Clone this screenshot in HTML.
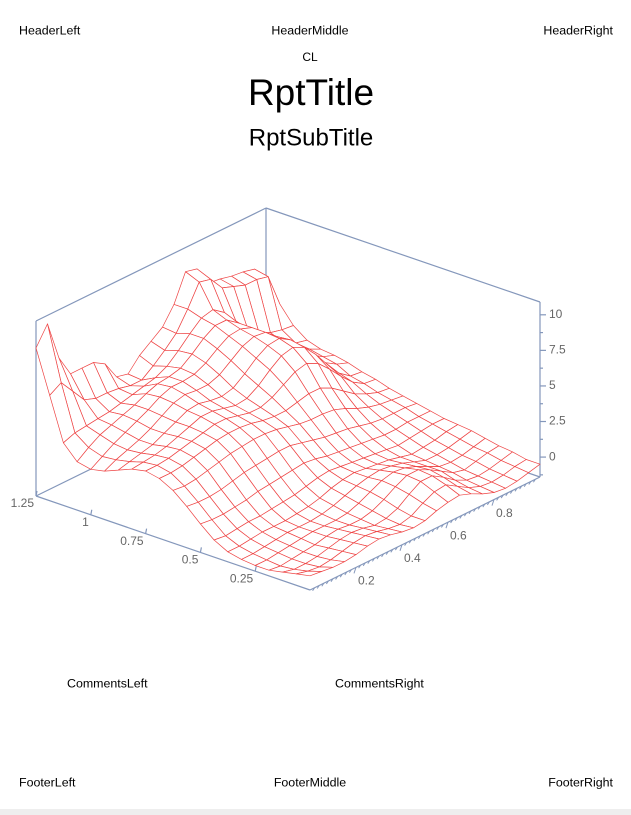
<!DOCTYPE html>
<html><head><meta charset="utf-8"><style>
body{margin:0;background:#fff;}
svg{display:block;font-family:"Liberation Sans",sans-serif;}
</style></head><body>
<svg id="c" width="631" height="815" viewBox="0 0 631 815">
<rect x="0" y="0" width="631" height="815" fill="#fff"/>
<rect x="0" y="809" width="631" height="6" fill="#eeeeee"/>
<text x="19" y="31" font-size="12.4" dominant-baseline="middle">HeaderLeft</text>
<text x="310" y="31" font-size="12.4" text-anchor="middle" dominant-baseline="middle">HeaderMiddle</text>
<text x="613" y="31" font-size="12.4" text-anchor="end" dominant-baseline="middle">HeaderRight</text>
<text x="310" y="58" font-size="12" text-anchor="middle" dominant-baseline="middle">CL</text>
<text x="311" y="95" font-size="37" text-anchor="middle" dominant-baseline="middle">RptTitle</text>
<text x="311" y="139" font-size="24" text-anchor="middle" dominant-baseline="middle">RptSubTitle</text>
<text x="67" y="684" font-size="12.4" dominant-baseline="middle">CommentsLeft</text>
<text x="335" y="684" font-size="12.4" dominant-baseline="middle">CommentsRight</text>
<text x="19" y="783" font-size="12.4" dominant-baseline="middle">FooterLeft</text>
<text x="310" y="783" font-size="12.4" text-anchor="middle" dominant-baseline="middle">FooterMiddle</text>
<text x="613" y="783" font-size="12.4" text-anchor="end" dominant-baseline="middle">FooterRight</text>
<g id="chart"></g>
</svg>
<script>
const xTicks=[0.25,0.5,0.75,1,1.25];
const xTickLabels=["0.25","0.5","0.75","1","1.25"];
const yTicks=[0.2,0.4,0.6,0.8];
const yTickLabels=["0.2","0.4","0.6","0.8"];
const zTicks=[0,2.5,5,7.5,10];
const zTickLabels=["0","2.5","5","7.5","10"];
const xMax=1.25, yMax=1, zMin=-1.4, zMax=10.9;
const zGrid=[
[-0.4,-0.5,-0.6,-0.6,-0.5,-0.3,-0.2,-0.3,-0.5,-0.6,-0.5,-0.2,0.0,0.1,-0.2,-0.6,-0.9,-1.0,-0.9,-0.7,-0.5],
[-0.6,-0.8,-0.9,-0.8,-0.6,-0.4,-0.3,-0.4,-0.6,-0.7,-0.5,0.0,0.4,0.5,0.0,-0.5,-0.8,-0.9,-0.8,-0.6,-0.5],
[-0.8,-1.0,-1.0,-0.9,-0.7,-0.5,-0.4,-0.5,-0.7,-0.6,-0.3,0.3,0.8,0.8,0.3,-0.3,-0.7,-0.8,-0.7,-0.5,-0.3],
[-1.0,-1.1,-1.0,-0.9,-0.8,-0.6,-0.5,-0.6,-0.6,-0.4,0.0,0.5,0.9,0.9,0.5,0.0,-0.5,-0.7,-0.5,-0.3,-0.2],
[-1.0,-1.0,-0.9,-0.8,-0.7,-0.6,-0.6,-0.6,-0.5,-0.2,0.2,0.6,0.8,0.7,0.4,0.0,-0.4,-0.5,-0.4,-0.2,0.0],
[-0.9,-0.9,-0.8,-0.7,-0.6,-0.6,-0.6,-0.5,-0.3,0.0,0.3,0.5,0.6,0.5,0.3,0.0,-0.3,-0.3,-0.2,0.0,0.2],
[-0.7,-0.7,-0.6,-0.5,-0.5,-0.5,-0.4,-0.3,-0.1,0.2,0.4,0.5,0.4,0.3,0.2,0.0,-0.2,-0.1,0.0,0.2,0.3],
[-0.2,-0.3,-0.2,-0.1,-0.1,0.0,0.1,0.2,0.4,0.6,0.7,0.6,0.5,0.4,0.3,0.2,0.1,0.2,0.3,0.4,0.4],
[0.6,0.5,0.5,0.6,0.7,0.9,1.0,1.1,1.2,1.3,1.2,1.0,0.9,0.8,0.7,0.6,0.5,0.5,0.6,0.6,0.6],
[1.5,1.4,1.4,1.5,1.7,1.9,2.0,2.1,2.2,2.2,2.0,1.8,1.6,1.5,1.4,1.2,1.0,0.9,0.9,0.9,0.8],
[2.3,2.2,2.3,2.5,2.7,2.9,3.0,3.1,3.1,3.0,2.8,2.6,2.5,2.5,2.4,2.1,1.7,1.4,1.2,1.1,1.0],
[2.8,2.8,2.9,3.1,3.3,3.5,3.6,3.6,3.5,3.3,3.2,3.2,3.4,3.6,3.6,3.2,2.6,2.0,1.6,1.3,1.2],
[3.0,3.0,3.1,3.3,3.5,3.7,3.9,3.9,3.7,3.5,3.5,3.8,4.3,4.8,5.0,4.6,3.8,2.9,2.1,1.6,1.5],
[2.8,2.9,3.0,3.2,3.5,3.8,4.1,4.1,3.9,3.7,3.8,4.3,5.0,5.6,5.8,5.4,4.5,3.4,2.4,1.8,1.7],
[2.4,2.6,2.8,3.0,3.4,3.8,4.2,4.3,4.1,4.0,4.2,4.8,5.5,6.0,6.1,5.6,4.6,3.6,2.8,2.3,2.0],
[2.0,2.4,2.7,3.0,3.4,3.9,4.4,4.6,4.5,4.5,4.8,5.4,6.0,6.3,6.2,5.5,4.6,3.8,3.0,2.5,2.2],
[1.8,2.3,2.8,3.2,3.6,4.0,4.5,4.8,4.8,4.9,5.3,5.9,6.4,6.5,6.2,5.4,4.6,3.9,3.2,2.7,2.3],
[2.0,2.6,3.1,3.4,3.7,4.0,4.4,4.7,4.8,5.0,5.6,6.3,6.8,6.8,6.2,5.3,4.5,3.8,3.2,2.8,2.6],
[3.0,3.3,3.4,3.5,3.6,3.8,4.0,4.2,4.4,4.8,5.5,6.3,7.0,7.2,6.6,5.6,4.7,4.0,3.6,3.4,3.3],
[6.0,6.5,5.5,4.5,4.2,4.2,4.1,3.9,3.9,4.5,5.2,6.0,7.3,8.8,8.6,7.6,7.3,7.0,7.0,6.8,4.5],
[9.0,10.3,7.5,6.0,6.0,6.0,5.5,4.2,4.0,4.9,5.5,6.1,7.3,9.2,9.0,7.6,7.5,7.3,7.2,7.0,6.0]
];
const NS="http://www.w3.org/2000/svg";
const g=document.getElementById('chart');
const O=[310,590], EX=[-274,-94], EY=[230,-113], ZS=(477-302)/(zMax-zMin);
function P(x,y,z){return [O[0]+x/xMax*EX[0]+y/yMax*EY[0], O[1]+x/xMax*EX[1]+y/yMax*EY[1]-(z-zMin)*ZS];}
function mk(tag,attrs){const e=document.createElementNS(NS,tag);for(const k in attrs)e.setAttribute(k,attrs[k]);g.appendChild(e);return e;}
const AX="#8497bb";
function line(a,b,name){const e=mk('line',{x1:a[0],y1:a[1],x2:b[0],y2:b[1],stroke:AX,'stroke-width':1.2});

}
line(P(xMax,0,zMin),P(xMax,yMax,zMin),'back-left-floor-edge');
line(P(xMax,yMax,zMin),P(0,yMax,zMin),'back-right-floor-edge');
line(P(xMax,yMax,zMin),P(xMax,yMax,zMax),'back-vertical-edge');
line(P(xMax,0,zMax),P(xMax,yMax,zMax),'top-left-edge');
line(P(xMax,yMax,zMax),P(0,yMax,zMax),'top-right-edge');
line(P(xMax,0,zMin),P(xMax,0,zMax),'left-vertical-edge');
line(P(0,yMax,zMin),P(0,yMax,zMax),'right-vertical-edge');
const nI=zGrid.length, nJ=zGrid[0].length;
const quads=[];
for(let i=0;i<nI-1;i++)for(let j=0;j<nJ-1;j++)quads.push([i,j]);
quads.sort((a,b)=>(b[0]/(nI-1)+b[1]/(nJ-1))-(a[0]/(nI-1)+a[1]/(nJ-1)));
const xs=i=>i/(nI-1)*xMax, ys=j=>j/(nJ-1)*yMax;
for(const [i,j] of quads){
  const pts=[P(xs(i),ys(j),zGrid[i][j]),P(xs(i+1),ys(j),zGrid[i+1][j]),P(xs(i+1),ys(j+1),zGrid[i+1][j+1]),P(xs(i),ys(j+1),zGrid[i][j+1])];
  const e=mk('polygon',{points:pts.map(p=>p[0].toFixed(1)+','+p[1].toFixed(1)).join(' '),fill:'#fff',stroke:'#ee4444','stroke-width':0.7,'stroke-linejoin':'round'});
  
  
}
line(P(xMax,0,zMin),P(0,0,zMin),'x-axis');
line(P(0,0,zMin),P(0,yMax,zMin),'y-axis');
function txt(x,y,s,anchor,name){const e=mk('text',{x:x,y:y,'font-size':12,fill:'#666','text-anchor':anchor,'dominant-baseline':'middle'});e.textContent=s;

}
xTicks.forEach((v,k)=>{const p=P(v,0,zMin);
  line(p,[p[0]+1,p[1]-5],'x-tick');
  txt(p[0]-2,p[1]+8,xTickLabels[k],'end','x-tick-label');});
for(let v=0.02;v<yMax-0.001;v+=0.02){const p=P(0,v,zMin);
  const e=mk('line',{x1:p[0],y1:p[1],x2:p[0]-2,y2:p[1]+(Math.round(v*100)%20===0?6:3),stroke:AX,'stroke-width':1});
  
  }
yTicks.forEach((v,k)=>{const p=P(0,v,zMin);txt(p[0]+2,p[1]+14,yTickLabels[k],'start','y-tick-label');});
zTicks.forEach((v,k)=>{const p=P(0,yMax,v);
  line(p,[p[0]+6,p[1]],'z-tick');
  const m=P(0,yMax,v-1.25);line(m,[m[0]+3,m[1]],'z-minor-tick');
  txt(p[0]+9,p[1],zTickLabels[k],'start','z-tick-label');});
</script>
</body></html>
